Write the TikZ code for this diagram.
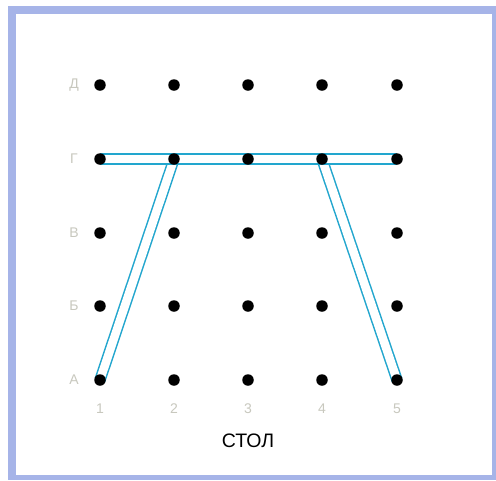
\documentclass[tikz,border=0pt]{standalone}
\usepackage{fontspec}
\setmainfont{Liberation Sans}
\usetikzlibrary{positioning,backgrounds}
\definecolor{frameblue}{RGB}{166,180,232}
\definecolor{plankblue}{RGB}{34,166,206}
\definecolor{labelgray}{RGB}{200,200,190}

\begin{document}
\begin{tikzpicture}[x=1pt,y=-1pt,
  dot/.style={circle,fill=black,inner sep=0pt,minimum size=11.5pt},
  lbl/.style={text=labelgray,font=\fontsize{14}{14}\selectfont,inner sep=0pt},
  plank/.style={draw=plankblue,line width=1.5pt,double=white,double distance=8.5pt}]
\useasboundingbox (0,0) rectangle (496,480);
% grid of holes
\foreach \r/\y/\t in {a/380/А,b/306/Б,v/233/В,g/159/Г,d/85/Д}{
  \node[lbl] (row-\r) at (74,\y) {\t};
  \foreach \c/\x in {1/100,2/174,3/248,4/322,5/397}
    \node[dot] (\r\c) at (\x,\y) {};
}
\foreach \c/\x in {1/100,2/174,3/248,4/322,5/397}
  \node[lbl] (col-\c) at (\x,409) {\c};
\node[font=\fontsize{19.5}{20}\selectfont,below=16pt of col-3] (title) {СТОЛ};
% frame and planks behind the holes
\begin{scope}[on background layer]
\fill[frameblue] (8,6) rectangle (496,480);
\fill[white] (16,14) rectangle (492,475);
\draw[plank] (g2.center)--(a1.center);\draw[plank] (g4.center)--(a5.center);
\draw[plank] (g1.center)--(g5.center);
\end{scope}
\end{tikzpicture}
\end{document}
